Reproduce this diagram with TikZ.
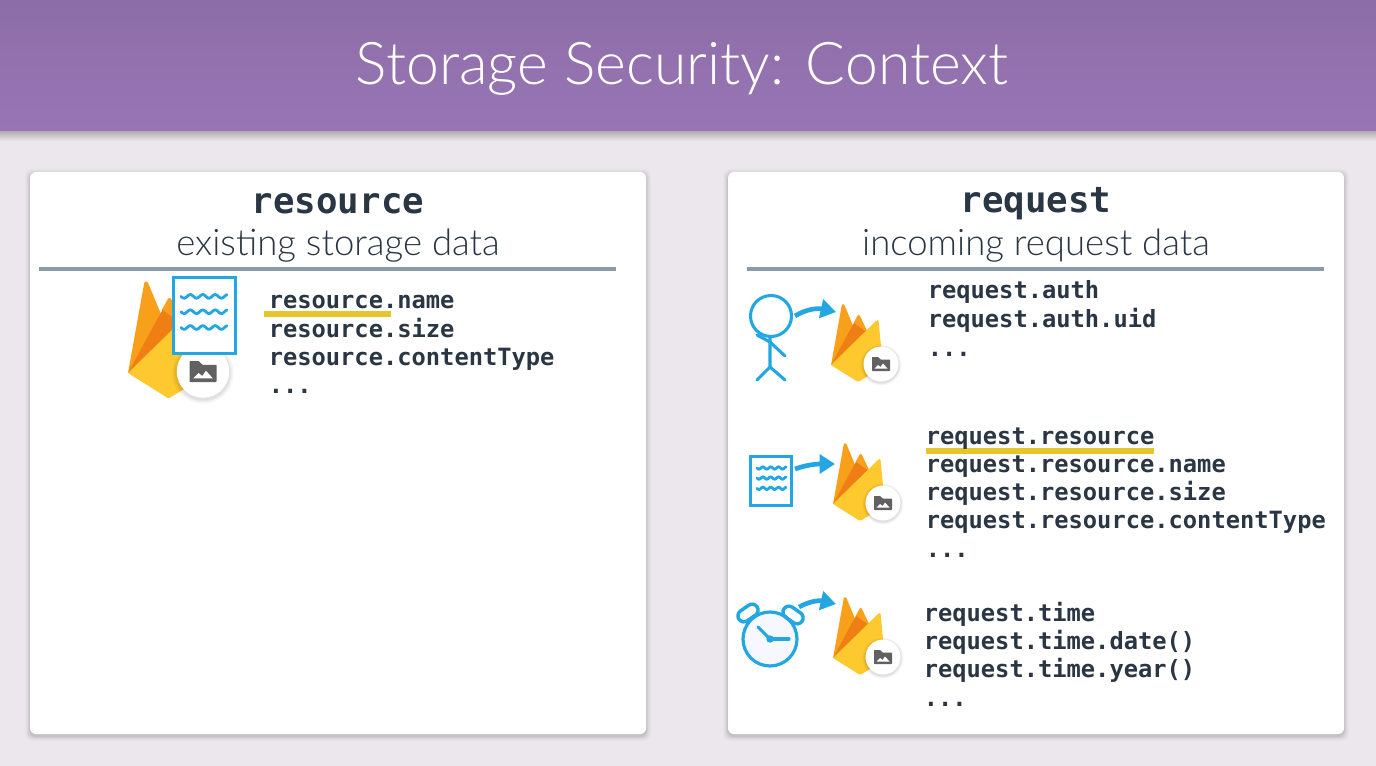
\documentclass[tikz,border=0pt]{standalone}
\usepackage{fontspec}
\setmainfont{Lato Light}
\setmonofont{DejaVu Sans Mono}
\usetikzlibrary{arrows.meta}
\definecolor{bgc}{HTML}{ECE7EC}
\definecolor{hdtop}{HTML}{8D6DA7}
\definecolor{hdbot}{HTML}{9876B6}
\definecolor{ink}{HTML}{2B3644}
\definecolor{rulec}{HTML}{8A9BA8}
\definecolor{blu}{HTML}{22A7E2}
\definecolor{ylw}{HTML}{E6C62A}
\definecolor{fbA}{HTML}{F9A11E}
\definecolor{fbB}{HTML}{F9A01B}
\definecolor{fbC}{HTML}{EF7F14}
\definecolor{fbD}{HTML}{FDC92F}
\definecolor{fold}{HTML}{616161}
\tikzset{
  x=0.75pt,y=-0.75pt,
  titletext/.style={inner sep=0pt,text=white,font=\fontsize{44.2pt}{50pt}\selectfont},
  headmono/.style={inner sep=0pt,text=ink,font=\ttfamily\bfseries\fontsize{26.8pt}{30pt}\selectfont},
  subhead/.style={inner sep=0pt,text=ink,font=\fontsize{27.4pt}{32pt}\selectfont},
  codeline/.style={anchor=base west,inner sep=0pt,text=ink,font=\ttfamily\bfseries\fontsize{17.8pt}{21pt}\selectfont},
  cardbox/.style={fill=white,rounded corners=4.5pt},
  seprule/.style={draw=rulec,line width=2.4pt},
  hilite/.style={draw=ylw,line width=5pt},
  bl/.style={draw=blu,line width=2.3pt,line cap=round,line join=round},
  wv/.style={draw=blu,line width=2.1pt,line cap=round},
  arr/.style={draw=blu,line width=3.5pt,-{Triangle[length=11.5pt,width=14pt]}},
}
\newcommand{\fbicon}[4]{%
  \begin{scope}[shift={(#2,#3)},scale=#4]
    \coordinate (#1) at (0,0);
    \fill[fbB,rounded corners=1pt] (0,0) -- (11,-61) -- (13,-61) -- (30,-20) -- cycle;
    \fill[fbA,rounded corners=0.6pt] (22.5,-42) -- (27,-50) -- (28.5,-50) -- (38,-30) -- (25,-30) -- cycle;
    \fill[fbC] (0,0) -- (19,-35) -- (23,-42) -- (37,-32) -- (30,-20) -- cycle;
    \fill[fbD,rounded corners=1pt] (0,0) -- (46,-45) -- (47.5,-45) -- (52,2) -- (27,17) -- cycle;
    \foreach \o/\r in {0.03/20.5,0.04/19.5,0.05/18.5}{\fill[black,opacity=\o] (50,0) circle (\r);}
    \fill[white] (50,-1) circle (17.5);
    \fill[fold,rounded corners=0.4pt] (41,-8) -- (47,-8) -- (49.5,-5.5) -- (59,-5.5) -- (59,6) -- (41,6) -- cycle;
    \fill[white] (43.5,3.5) -- (47,0) -- (49.5,2) -- (52,-1.5) -- (56.5,3.5) -- cycle;
  \end{scope}}
\newcommand{\docicon}[7]{%
  \coordinate (#1) at (#2,#3);
  \fill[blu] ({#2-1.5},{#3-1.5}) rectangle ({#4+1.5},{#5+1.5});
  \fill[white] ({#2+1.5},{#3+1.5}) rectangle ({#4-1.5},{#5-1.5});
  \foreach \t in {0.245,0.45,0.66}{
    \draw[wv,shift={(#6,{#3+\t*(#5-#3)})}] plot[smooth,domain=0:#7,samples=40] (\x,{0.04*#7*sin(\x/#7*3.7*360)});
  }}
\begin{document}
\begin{tikzpicture}
\useasboundingbox (0,0) rectangle (1376,766);
\fill[bgc] (0,0) rectangle (1376,766);
% header
\shade[top color=black!28!bgc,bottom color=bgc] (0,130) rectangle (1376,141);
\shade[top color=hdtop,bottom color=hdbot] (0,0) rectangle (1376,131);
\node[titletext] (ttl) at (682,69) {Storage Security: Context};
% card shadows
\foreach \d/\o in {5/0.015,4/0.02,3/0.03,2/0.04,1/0.06}{
  \fill[black,opacity=\o,rounded corners=5pt] (30-\d,172-\d+2) rectangle (646+\d,734+\d+2);
  \fill[black,opacity=\o,rounded corners=5pt] (728-\d,172-\d+2) rectangle (1344+\d,734+\d+2);
}
\fill[cardbox] (30,172) rectangle (646,734);
\fill[cardbox] (728,172) rectangle (1344,734);
% left card
\node[headmono] (lh) at (338,204) {resource};
\node[subhead] (ls) at (338,246) {existing storage data};
\draw[seprule] (39,269) -- (616,269);
\fbicon{bigfb}{128}{373}{1.5}
\docicon{ldoc}{173}{278}{235}{353}{181}{46}
\draw[hilite] (264,314) -- (391,314);
\node[codeline] (l1) at (268.5,309) {resource.name};
\node[codeline] (l2) at (268.5,337) {resource.size};
\node[codeline] (l3) at (268.5,365) {resource.contentType};
\node[codeline] (l4) at (268.5,393) {...};
% right card
\node[headmono] (rh) at (1036,204) {request};
\node[subhead] (rs) at (1036,246) {incoming request data};
\draw[seprule] (747,269) -- (1324,269);
% person
\draw[bl] (771,316) circle (20.5);
\coordinate (neck) at (770,337);
\coordinate (hip) at (770,367);
\draw[bl] (neck) -- (hip) -- (757,380);
\draw[bl] (hip) -- (785,380);
\draw[bl] (757,335) -- (770,342) -- (785,356);
\fbicon{fba}{831}{365}{1}
\coordinate (a1s) at (795,316);
\coordinate (a1e) at (836,312);
\draw[arr] (a1s) .. controls (806,309) and (818,308) .. (a1e);
\node[codeline] (r1) at (927.5,299) {request.auth};
\node[codeline] (r2) at (927.5,327) {request.auth.uid};
\node[codeline] (r3) at (927.5,356) {...};
% doc
\docicon{rdoc}{750}{456}{791}{505}{757}{29}
\fbicon{fbb}{833}{504}{1}
\coordinate (a2s) at (795,469);
\coordinate (a2e) at (835,464);
\draw[arr] (a2s) .. controls (806,465) and (816,464) .. (a2e);
\draw[hilite] (926,451) -- (1154,451);
\node[codeline] (r4) at (925.5,444) {request.resource};
\node[codeline] (r5) at (925.5,472) {request.resource.name};
\node[codeline] (r6) at (925.5,500) {request.resource.size};
\node[codeline] (r7) at (925.5,528) {request.resource.contentType};
\node[codeline] (r8) at (925.5,557) {...};
% clock
\draw[bl,fill=blue!3,line width=2.4pt] (770,639) circle (27);
\draw[bl,line width=2.6pt,rounded corners=4.5pt,rotate around={35:(748,613)}] (737,607) rectangle (759,619);
\draw[bl,line width=2.6pt,rounded corners=4.5pt,rotate around={-35:(793,615)}] (782,609) rectangle (804,621);
\fill[blu] (770,639) circle (3.7);
\draw[bl] (770,639) -- (758,627);
\draw[bl] (770,639) -- (789,639);
\fbicon{fbc}{833}{658}{1}
\coordinate (a3s) at (799,607);
\coordinate (a3e) at (836,604);
\draw[arr] (a3s) .. controls (808,602) and (818,600) .. (a3e);
\node[codeline] (r9) at (923.5,621) {request.time};
\node[codeline] (r10) at (923.5,649) {request.time.date()};
\node[codeline] (r11) at (923.5,677) {request.time.year()};
\node[codeline] (r12) at (923.5,706) {...};
\end{tikzpicture}
\end{document}
